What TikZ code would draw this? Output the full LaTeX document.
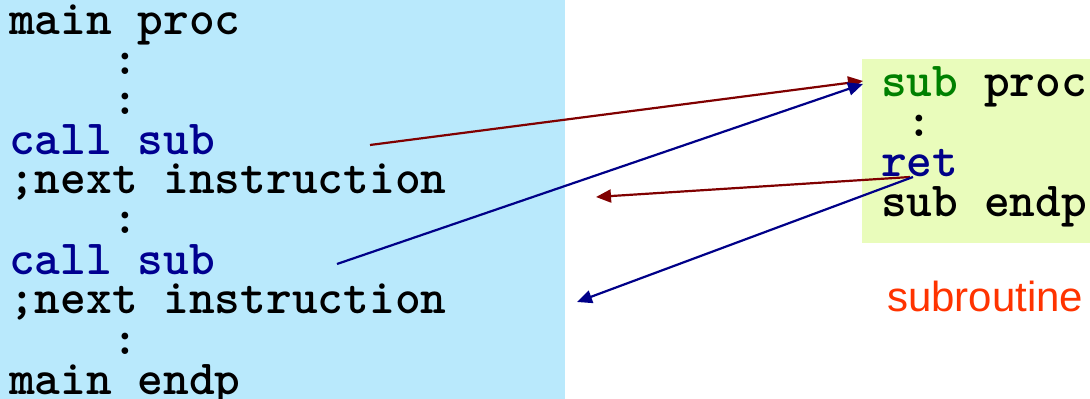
\documentclass[tikz,border=0pt]{standalone}
\usepackage{fontspec}
\setmainfont{Liberation Sans}
\usetikzlibrary{arrows.meta}
\definecolor{mainbg}{HTML}{B9E9FC}
\definecolor{subbg}{HTML}{E9FCBB}
\definecolor{kwblue}{HTML}{000090}
\definecolor{kwgreen}{HTML}{008000}
\definecolor{callred}{HTML}{800000}
\definecolor{retblue}{HTML}{000088}
\definecolor{labelred}{HTML}{FF3300}
\tikzset{
  code/.style={anchor=base west, inner sep=0pt, font=\ttfamily\bfseries\fontsize{49}{49}\selectfont},
  lab/.style={anchor=base west, inner sep=0pt, font=\fontsize{42}{42}\selectfont, text=labelred},
  callarrow/.style={draw=callred, line width=2.2pt, -{Triangle[length=15pt,width=13pt]}},
  retarrow/.style={draw=retblue, line width=2.2pt, -{Triangle[length=15pt,width=13pt]}},
}
\begin{document}
\begin{tikzpicture}[x=1pt,y=1pt]
\useasboundingbox (0,0) rectangle (1090,399);
\fill[mainbg] (0,0) rectangle (565,399);
\fill[subbg] (862,156) rectangle (1090,340);
% main procedure
\node[code] (l1) at (9,364) {main proc};
\node[code] (l2) at (9,324) {\phantom{0000}:};
\node[code] (l3) at (9,284) {\phantom{0000}:};
\node[code, text=kwblue] (l4) at (9,244) {call sub};
\node[code] (l5) at (9,205) {;next instruction};
\node[code] (l6) at (9,165) {\phantom{0000}:};
\node[code, text=kwblue] (l7) at (9,124) {call sub};
\node[code] (l8) at (9,85) {;next instruction};
\node[code] (l9) at (9,44) {\phantom{0000}:};
\node[code] (l10) at (9,5) {main endp};
% subroutine
\node[code] (s1) at (881,302) {\textcolor{kwgreen}{sub} proc};
\node[code] (s2) at (881,262) {\phantom{0}:};
\node[code, text=retblue] (s3) at (881,222) {ret};
\node[code] (s4) at (881,182) {sub endp};
\node[lab] (sublab) at (887,87) {subroutine};
% connector ends
\coordinate (r1s) at (370,254);
\coordinate (r1e) at (863,318);
\coordinate (b1s) at (337,135);
\coordinate (b1e) at (863,315);
\coordinate (r2s) at (910,222);
\coordinate (r2e) at (596,202);
\coordinate (b2s) at (913,222);
\coordinate (b2e) at (577,97);
\draw[callarrow] (r1s) -- (r1e);
\draw[retarrow] (b1s) -- (b1e);
\draw[callarrow] (r2s) -- (r2e);
\draw[retarrow] (b2s) -- (b2e);
\end{tikzpicture}
\end{document}
